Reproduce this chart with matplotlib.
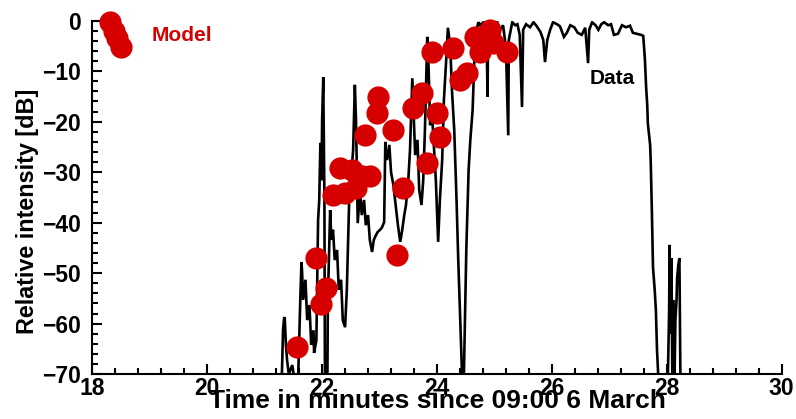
import matplotlib
matplotlib.use("Agg")
import matplotlib.pyplot as plt
from matplotlib.ticker import MultipleLocator

# ---- Data ----
data_time = [21.25, 21.30, 21.32, 21.34, 21.35, 21.37, 21.39, 21.42, 21.48, 21.53,
             21.58, 21.62, 21.64, 21.65, 21.67, 21.71, 21.74, 21.78, 21.81, 21.85,
             21.86, 21.90, 21.93, 21.95, 21.97, 21.99, 22.00, 22.02, 22.04, 22.05,
             22.09, 22.10, 22.14, 22.16, 22.19, 22.22, 22.26, 22.29, 22.33, 22.36,
             22.40, 22.43, 22.47, 22.50, 22.54, 22.57, 22.59, 22.62, 22.66, 22.69,
             22.73, 22.76, 22.80, 22.83, 22.87, 22.90, 22.94, 22.97, 23.01, 23.04,
             23.08, 23.10, 23.11, 23.13, 23.17, 23.20, 23.24, 23.27, 23.32, 23.36,
             23.39, 23.43, 23.46, 23.50, 23.53, 23.57, 23.59, 23.62, 23.66, 23.69,
             23.73, 23.76, 23.79, 23.83, 23.85, 23.88, 23.91, 23.95, 23.98, 24.02,
             24.05, 24.09, 24.12, 24.16, 24.19, 24.23, 24.26, 24.30, 24.34, 24.37,
             24.41, 24.45, 24.46, 24.48, 24.51, 24.55, 24.58, 24.62, 24.65, 24.69,
             24.72, 24.75, 24.81, 24.86, 24.88, 24.89, 24.94, 25.00, 25.05, 25.10,
             25.15, 25.20, 25.24, 25.25, 25.31, 25.36, 25.40, 25.44, 25.48, 25.50,
             25.55, 25.62, 25.68, 25.73, 25.80, 25.85, 25.88, 25.92, 25.97, 26.02,
             26.09, 26.14, 26.21, 26.26, 26.32, 26.39, 26.45, 26.52, 26.58, 26.63,
             26.65, 26.70, 26.76, 26.81, 26.86, 26.91, 26.98, 27.03, 27.08, 27.15,
             27.22, 27.29, 27.36, 27.41, 27.48, 27.55, 27.59, 27.62, 27.64, 27.66,
             27.67, 27.71, 27.72, 27.74, 27.76, 27.79, 27.81, 27.83, 27.85, 27.88,
             28.00, 28.02, 28.04, 28.05, 28.06, 28.08, 28.10, 28.11, 28.13, 28.15,
             28.17, 28.18, 28.20, 28.22, 28.24, 28.26]
data_db = [-75, -70, -61.2, -58.7, -59.0, -64.2, -67.2, -70, -68.2, -72,
           -72, -55.3, -47.8, -49.4, -55.3, -51.3, -59.3, -56.3, -64.2, -61.3,
           -65.8, -63.3, -39.5, -35.5, -24.2, -31.6, -19.7, -11.2, -35.5, -75,
           -75, -55.3, -37.5, -43.4, -41.4, -47.4, -45.4, -53.3, -51.3, -59.3,
           -60.7, -53.3, -36.1, -31.6, -25.6, -12.7, -19.7, -40.1, -33.5, -38.5,
           -35.5, -40.5, -38.5, -43.4, -45.8, -43.4, -42.4, -41.8, -41.4, -41.0,
           -39.9, -24.0, -25.6, -27.6, -24.6, -30.0, -32.5, -35.5, -40.5, -43.8,
           -41.8, -38.5, -36.5, -31.6, -25.6, -11.4, -17.7, -26.6, -23.6, -33.5,
           -36.5, -31.6, -21.6, -3.2, -7.8, -20.7, -17.7, -25.6, -31.6, -43.8,
           -35.5, -27.6, -15.7, -7.8, -1.4, -4.8, -13.7, -21.6, -35.5, -47.4,
           -61.3, -75, -75, -63.2, -45.4, -29.6, -23.6, -17.7, -7.8, -1.8,
           -0.3, -0.9, -0.3, -0.9, -15.1, -1.8, -0.7, -1.4, -0.3, -1.8,
           -0.9, -5.4, -22.7, -3.8, -0.3, -0.9, -0.7, -2.8, -17.1, -1.8,
           -0.7, -1.3, -0.3, -1.0, -2.2, -3.8, -8.2, -3.8, -1.8, -0.3,
           -0.7, -1.1, -3.2, -2.4, -0.9, -1.3, -2.4, -2.8, -1.4, -8.4,
           -1.8, -0.3, -0.9, -1.8, -0.7, -0.3, -0.9, -0.7, -2.8, -2.6,
           -0.9, -1.3, -1.0, -2.4, -2.6, -2.8, -3.0, -7.8, -13.1, -16.7,
           -20.3, -24.6, -27.6, -37.5, -48.8, -53.4, -57.3, -65.2, -70, -75,
           -75, -70, -58, -44.4, -62, -47.0, -75, -55.3, -75, -59.3,
           -55.3, -51.0, -48.4, -47.0, -75, -75]

model_time = [18.31, 18.38, 18.43, 18.50, 21.56, 21.89, 21.98, 22.07, 22.19, 22.40,
              22.31, 22.52, 22.69, 22.59, 22.83, 22.75, 22.97, 22.96, 23.23, 23.41,
              23.30, 23.58, 23.74, 24.00, 23.83, 24.05, 23.91, 24.28, 24.40, 24.52,
              24.66, 24.75, 24.98, 24.92, 25.22]
model_db = [-0.3, -2.0, -3.4, -5.2, -64.6, -47.0, -56.1, -52.9, -34.5, -34.1,
            -29.2, -29.6, -30.8, -33.1, -30.8, -22.6, -15.1, -18.3, -21.6, -33.1,
            -46.4, -17.3, -14.3, -18.3, -28.2, -23.0, -6.2, -5.4, -11.7, -10.4,
            -3.2, -6.2, -4.4, -1.8, -6.2]

xticks = [18, 20, 22, 24, 26, 28, 30]
yticks = [-70, -60, -50, -40, -30, -20, -10, 0]

RED = "#d60000"

plt.rcParams['font.family'] = ['Liberation Sans', 'DejaVu Sans']
plt.rcParams['font.weight'] = 'bold'

fig = plt.figure(figsize=(7.96, 4.19), dpi=100)
ax = fig.add_axes([0.116, 0.107, 0.866, 0.8436])

ax.plot(data_time, data_db, color='black', lw=1.9, solid_joinstyle='miter', zorder=2)
ax.plot(model_time, model_db, 'o', color=RED, markersize=16, markeredgewidth=0,
        clip_on=False, zorder=3)

ax.set_xlim(18, 30)
ax.set_ylim(-70, 0)
ax.set_xticks(xticks)
ax.set_yticks(yticks)
ax.xaxis.set_minor_locator(MultipleLocator(0.4))
ax.yaxis.set_minor_locator(MultipleLocator(2))
ax.tick_params(which='both', direction='in', width=1.5, labelsize=16.5)
ax.tick_params(which='major', length=7.2)
ax.tick_params(which='minor', length=4.3)
ax.tick_params(axis='x', pad=2)
ax.tick_params(axis='y', pad=8)
for lab in ax.get_xticklabels() + ax.get_yticklabels():
    lab.set_fontweight('bold')

for s in ['top', 'right']:
    ax.spines[s].set_visible(False)
for s in ['left', 'bottom']:
    ax.spines[s].set_linewidth(1.5)

ax.set_xlabel('Time in minutes since 09:00 6 March', fontsize=19, fontweight='bold')
ax.xaxis.set_label_coords(0.5, -0.042)
ax.set_ylabel('Relative intensity [dB]', fontsize=16.8, fontweight='bold')
ax.yaxis.set_label_coords(-0.078, 0.46)

ax.text(19.56, -2.9, 'Model', color=RED, fontsize=15, fontweight='bold',
        ha='center', va='center')
ax.text(27.05, -11.4, 'Data', color='black', fontsize=15, fontweight='bold',
        ha='center', va='center')

fig.savefig('out.png', dpi=100)
